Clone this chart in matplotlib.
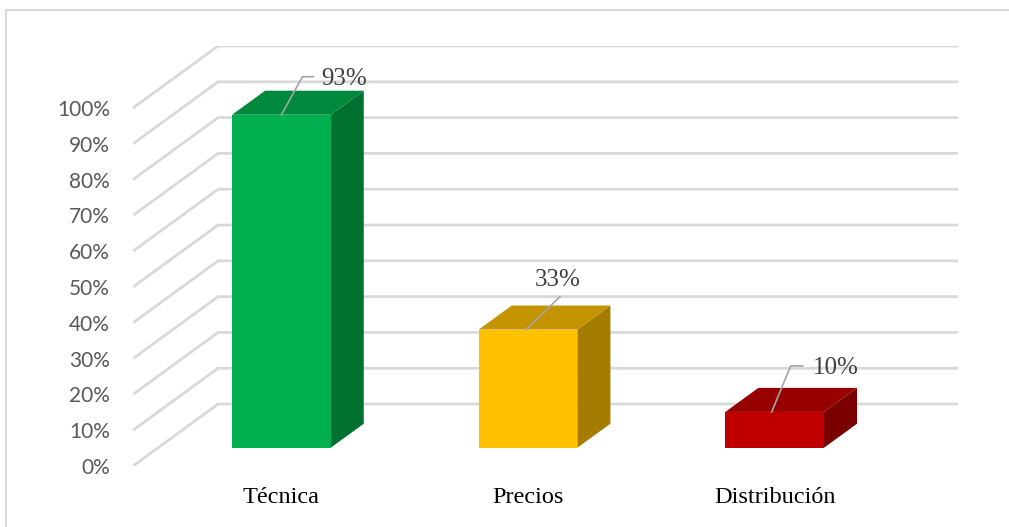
import matplotlib
matplotlib.use("Agg")
import matplotlib.pyplot as plt
from matplotlib.patches import Polygon
from matplotlib.lines import Line2D

# data
categories = ["Técnica", "Precios", "Distribución"]
values = [0.93, 0.33, 0.10]
value_labels = ["93%", "33%", "10%"]
ticks = [i / 10 for i in range(11)]
tick_labels = [f"{i * 10}%" for i in range(11)]

# colours per bar: front, top, side
front_colors = ["#00B050", "#FFC000", "#C00000"]
top_colors = ["#00883C", "#C49400", "#980000"]
side_colors = ["#00712F", "#A47C00", "#7A0000"]

# oblique depth of the plot box (data units)
DX, DY = 0.345, 0.173
BAR_W = 0.40
D_FRONT, D_BACK = 0.295, 0.683
GRID = "#D9D9D9"

fig = plt.figure(figsize=(10.09, 5.27), dpi=100)
ax = fig.add_axes([133 / 1009, 61 / 527, 825 / 1009, 420 / 527])
ax.set_xlim(0, 3 + DX)
ax.set_ylim(0, 1 + DY)
for s in ax.spines.values():
    s.set_visible(False)

# px -> data conversion
ux = 825 / (3 + DX)
uy = 420 / (1 + DY)

# gridlines: front diagonal + back wall line
for t in ticks:
    ax.plot([0, DX, 3 + DX], [t, t + DY, t + DY], color=GRID, lw=2, zorder=1,
            solid_capstyle="butt")

# bars
for i, v in enumerate(values):
    xl = i + 0.5 - BAR_W / 2
    xr = i + 0.5 + BAR_W / 2
    a, b = D_FRONT, D_BACK
    front = [(xl + a * DX, a * DY), (xr + a * DX, a * DY),
             (xr + a * DX, v + a * DY), (xl + a * DX, v + a * DY)]
    top = [(xl + a * DX, v + a * DY), (xr + a * DX, v + a * DY),
           (xr + b * DX, v + b * DY), (xl + b * DX, v + b * DY)]
    side = [(xr + a * DX, a * DY), (xr + b * DX, b * DY),
            (xr + b * DX, v + b * DY), (xr + a * DX, v + a * DY)]
    ax.add_patch(Polygon(side, closed=True, fc=side_colors[i], ec="none", zorder=3))
    ax.add_patch(Polygon(top, closed=True, fc=top_colors[i], ec="none", zorder=3))
    ax.add_patch(Polygon(front, closed=True, fc=front_colors[i], ec="none", zorder=4))

# data labels with leader lines (offsets in px from front-top centre)
leaders = [
    [(0, 0), (21, 38), (32, 38)],
    [(-2, 0), (32, 33)],
    [(-3, 0), (16, 46), (28, 46)],
]
text_pos = [(40, 36, "left"), (30, 50, "center"), (38, 44, "left")]
for i, v in enumerate(values):
    cx = i + 0.5 + D_FRONT * DX
    cy = v + D_FRONT * DY
    pts = leaders[i]
    ax.plot([cx + p[0] / ux for p in pts], [cy + p[1] / uy for p in pts],
            color="#A6A6A6", lw=1.2, zorder=5)
    tx, ty, ha = text_pos[i]
    ax.text(cx + tx / ux, cy + ty / uy, value_labels[i], ha=ha, va="center",
            fontsize=18, family="Liberation Serif", color="#404040", zorder=6)

# axes ticks
ax.set_yticks(ticks)
ax.set_yticklabels(tick_labels, family="Lato", fontsize=15, color="#595959")
ax.set_xticks([i + 0.5 + D_FRONT * DX for i in range(len(categories))])
ax.set_xticklabels(categories, family="Liberation Serif", fontsize=17.5, color="black")
ax.tick_params(axis="y", length=0, pad=16.5)
ax.tick_params(axis="x", length=0, pad=15)

# chart frame
fig.add_artist(Line2D([6 / 1009, 6 / 1009], [0, 1 - 10 / 527], color=GRID, lw=1.5))
fig.add_artist(Line2D([6 / 1009, 1], [1 - 10 / 527, 1 - 10 / 527], color=GRID, lw=1.5))

fig.savefig("out.png", dpi=100)
